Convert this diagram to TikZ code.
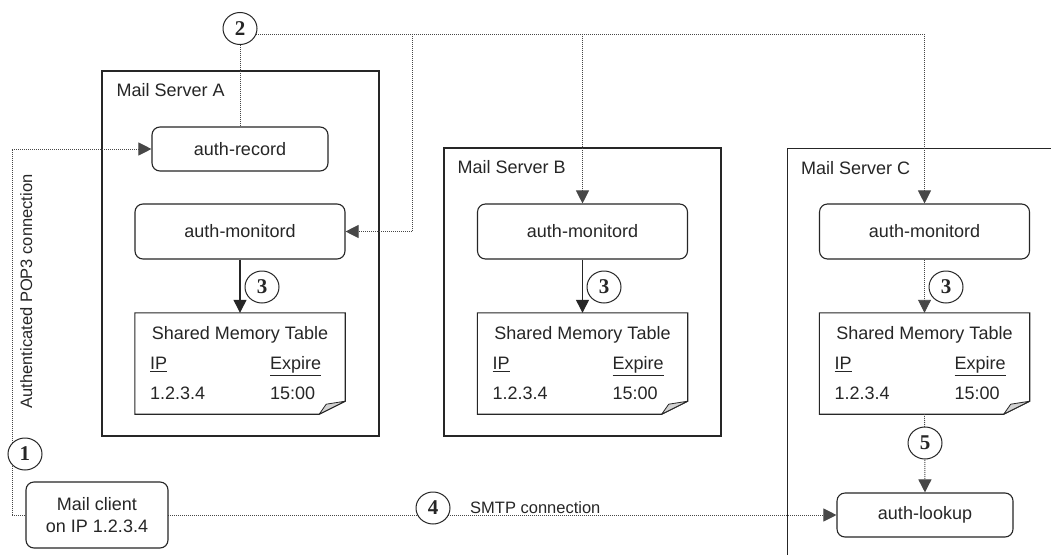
\documentclass[tikz,border=0pt]{standalone}
\usepackage{fontspec}
\setmainfont{Liberation Sans}
\newfontfamily\numfont{Liberation Serif}
\usetikzlibrary{arrows.meta,shapes.geometric}
\definecolor{ink}{HTML}{262626}
\begin{document}
\begin{tikzpicture}[x=1pt,y=-1pt,
  font=\fontsize{18}{21}\selectfont,
  server/.style={draw=ink,line width=1.1pt,inner sep=0pt},
  srvlabel/.style={anchor=base west,text=ink,inner sep=0pt},
  proc/.style={draw=ink,line width=1.1pt,rounded corners=8pt,fill=white,text=ink,inner sep=0pt,align=center},
  tbl/.style={inner sep=0pt,minimum width=210pt,minimum height=101pt},
  tbltext/.style={text=ink,inner sep=0pt},
  num/.style={ellipse,draw=ink,line width=1pt,fill=white,inner sep=0pt,minimum width=34pt,minimum height=32pt,font=\fontsize{21}{22}\numfont\bfseries,text=ink},
  conn/.style={draw=ink!85,line width=0.9pt,dash pattern=on 1pt off 1pt},
  solidconn/.style={draw=ink,line width=1.2pt},
  tip/.style={-{Triangle[length=13pt,width=13pt]}},
  small/.style={font=\fontsize{16.5}{19}\selectfont,text=ink,inner sep=0pt}
]
\clip (0,0) rectangle (1051,554);
\path[fill=white] (0,0) rectangle (1051,554);

% servers
\node[server,minimum width=277pt,minimum height=365pt] (srvA) at (240.5,253.5) {};
\node[server,minimum width=277pt,minimum height=288pt] (srvB) at (582.5,292) {};
\node[server,minimum width=400pt,minimum height=500pt,anchor=north west] (srvC) at (787,148) {};
\node[srvlabel] (labA) at ([xshift=15pt,yshift=-26pt]srvA.north west) {Mail Server A};
\node[srvlabel] (labB) at ([xshift=14pt,yshift=-26pt]srvB.north west) {Mail Server B};
\node[srvlabel] (labC) at ([xshift=14pt,yshift=-26pt]srvC.north west) {Mail Server C};

% processes
\node[proc,minimum width=176pt,minimum height=44pt] (rec) at (240,149) {auth-record};
\node[proc,minimum width=210pt,minimum height=55pt] (monA) at (240,231.5) {auth-monitord};
\node[proc,minimum width=210pt,minimum height=55pt] (monB) at (582.5,231.5) {auth-monitord};
\node[proc,minimum width=210pt,minimum height=55pt] (monC) at (924.5,231.5) {auth-monitord};
\node[proc,minimum width=176pt,minimum height=44pt] (look) at (925,515) {auth-lookup};

% tables
\node[tbl] (tA) at (240,363.5) {};
\node[tbl] (tB) at (582.5,363.5) {};
\node[tbl] (tC) at (924.5,363.5) {};
\foreach \t in {tA,tB,tC}{
  \draw[draw=ink,line width=1.1pt,line join=miter]
    (\t.north west) -- (\t.north east) -- ([yshift=13pt]\t.south east)
    -- ([xshift=-26pt]\t.south east) -- (\t.south west) -- cycle;
  \draw[draw=ink,line width=0.8pt,fill=gray!35,line join=round]
    ([xshift=-26pt]\t.south east) -- ([yshift=13pt]\t.south east)
    -- ([xshift=-19pt,yshift=10pt]\t.south east) -- cycle;
  \node[tbltext,anchor=base] (\t-title) at ([yshift=-27pt]\t.north) {Shared Memory Table};
  \node[tbltext,anchor=base west] (\t-ip) at ([xshift=15pt,yshift=-57pt]\t.north west) {\underline{IP}};
  \node[tbltext,anchor=base west] (\t-exp) at ([xshift=135pt,yshift=-57pt]\t.north west) {\underline{Expire}};
  \node[tbltext,anchor=base west] (\t-ipv) at ([xshift=15pt,yshift=-87pt]\t.north west) {1.2.3.4};
  \node[tbltext,anchor=base west] (\t-expv) at ([xshift=135pt,yshift=-87pt]\t.north west) {15:00};
}

% number markers (positions)
\coordinate (p2) at (240,28.5);
\coordinate (jA) at (412,34);
\coordinate (pc) at (12,515);

% connectors
\draw[solidconn,tip] (monA.south) -- (tA.north);
\draw[solidconn,tip] (monB.south) -- (tB.north);
\draw[conn,tip] (monC.south) -- (tC.north);
\draw[conn,tip] (tC.south) -- (look.north);
\draw[conn] (p2) -- (rec.north);
\draw[conn,tip] (p2 |- jA) -- (jA) |- (monA.east);
\draw[conn,tip] (p2 |- jA) -| (monB.north);
\draw[conn,tip] (p2 |- jA) -| (monC.north);
\draw[conn,tip] (pc) |- (rec.west);
\draw[conn,tip] (pc) -- (look.west);

% client
\node[proc,minimum width=142pt,minimum height=66pt,font=\fontsize{18}{22}\selectfont] (client) at (97,515) {Mail client\\on IP 1.2.3.4};

% labels
\node[small,rotate=90,anchor=base] (pop) at (32,291.5) {Authenticated POP3 connection};
\node[small,anchor=base west] (smtp) at (470,513) {SMTP connection};

% numbered circles
\node[num] (n1) at (25,454) {1};
\node[num] (n2) at (p2) {2};
\node[num] (n3a) at (262,287) {3};
\node[num] (n3b) at (604,287) {3};
\node[num] (n3c) at (946,287) {3};
\node[num] (n4) at (433,508) {4};
\node[num] (n5) at (925,443) {5};
\end{tikzpicture}
\end{document}
